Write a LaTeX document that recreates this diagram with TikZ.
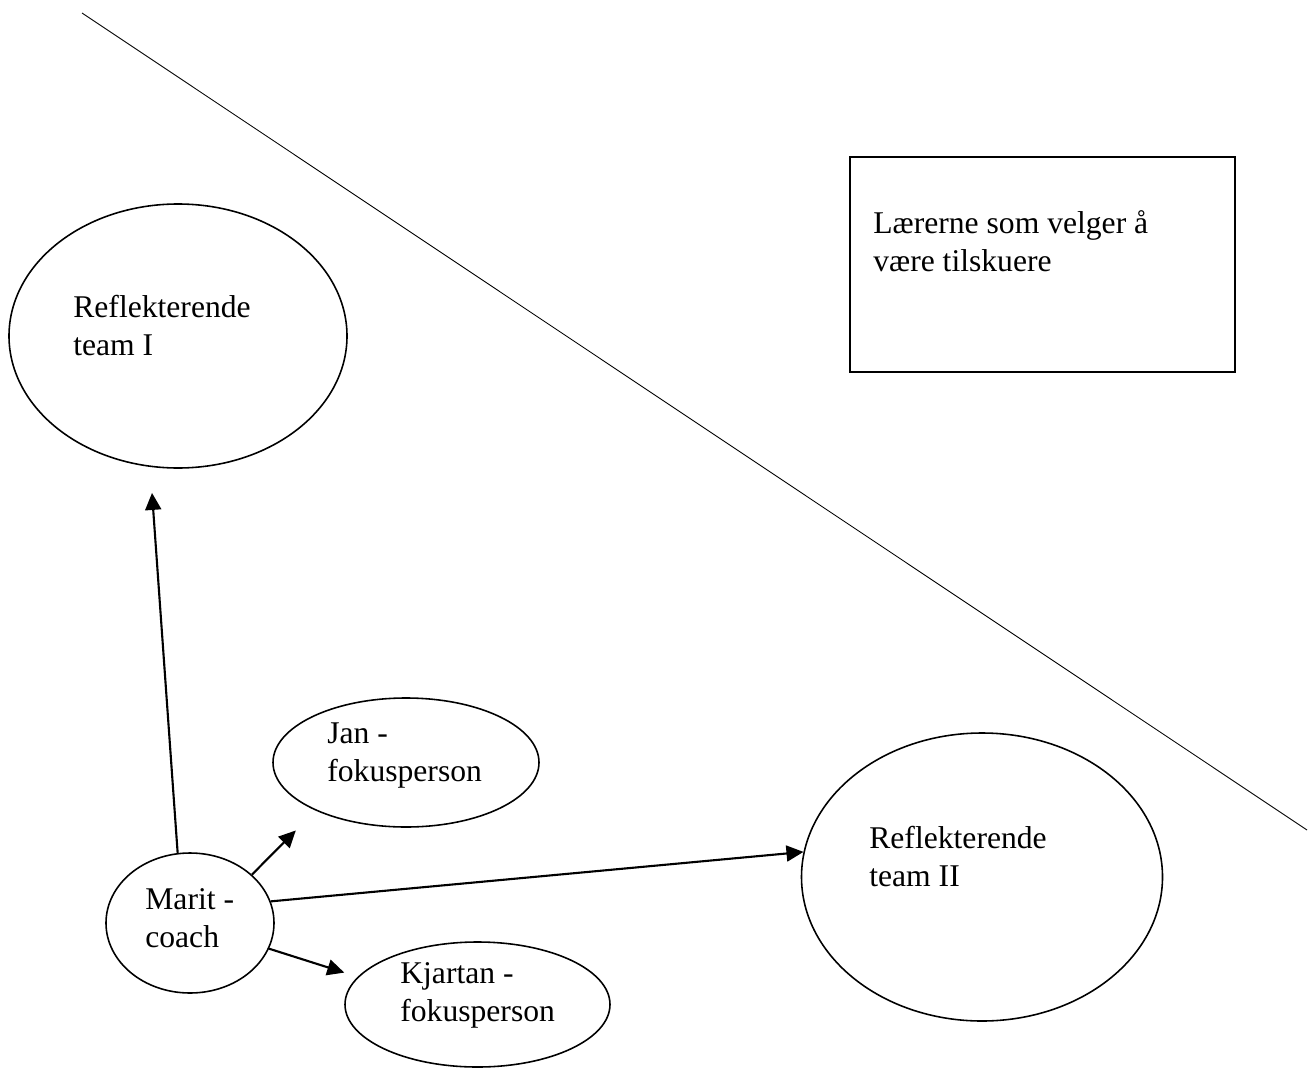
\documentclass[tikz,border=0pt]{standalone}
\usepackage{fontspec}
\setmainfont{Liberation Serif}
\usetikzlibrary{positioning,shapes.geometric,arrows.meta}
\tikzstyle{sheet} = [x = 0.02cm, y = -0.02cm]
\tikzstyle{groupStyle} = [draw, ellipse, line width = .9pt, inner sep = 0pt]
\tikzstyle{boxStyle} = [draw, rectangle, line width = 1pt, inner sep = 0pt]
\tikzstyle{groupText} = [anchor = base west, align = left, inner sep = 0pt, font = \fontsize{18}{21.5}\selectfont]
\tikzstyle{talkArrow} = [-{Triangle[length = .34cm, width = .32cm]}, line width = 1.2pt]
\tikzstyle{stageLine} = [line width = .5pt]
\newcommand{\px}{0.02cm}
% base of a two-line text is the second line
\newcommand{\groupEllipse}[8]{
  \node [groupStyle, minimum width = #4*\px, minimum height = #5*\px] (#1) at (#2,#3) {};
  \node [groupText] (#1Text) at ([shift = {(#6,#7 + 38)}] #1.center) {#8};
}
\newcommand{\groupBox}[8]{
  \node [boxStyle, minimum width = #4*\px, minimum height = #5*\px] (#1) at (#2,#3) {};
  \node [groupText] (#1Text) at ([shift = {(#6,#7 + 38)}] #1.center) {#8};
}

\begin{document}
\begin{tikzpicture}[sheet]
  \useasboundingbox (0,0) rectangle (1308,1068);
  \draw [stageLine] (82,13) -- (1307,830);
  \groupBox{viewers}{1042.5}{264.5}{385}{215}{-169.5}{-31.5}{Lærerne som velger å\\være tilskuere}
  \groupEllipse{teamI}{178}{336}{338}{264}{-105}{-19}{Reflekterende\\team I}
  \groupEllipse{jan}{406}{762.5}{266}{129}{-79}{-19.5}{Jan -\\fokusperson}
  \groupEllipse{marit}{190}{923}{168}{140}{-45}{-14}{Marit -\\coach}
  \groupEllipse{kjartan}{477.5}{1004.5}{265}{125}{-77.5}{-21.5}{Kjartan -\\fokusperson}
  \groupEllipse{teamII}{982}{877}{361}{288}{-113}{-29}{Reflekterende\\team II}
  \draw [talkArrow, shorten > = .52cm] (marit.100) -- (teamI.258);
  \draw [talkArrow, shorten > = .56cm] (marit.38) -- (jan.208);
  \draw [talkArrow] (marit.15) -- (teamII.172);
  \draw [talkArrow, shorten > = .28cm] (marit.-18) -- (kjartan.167);
\end{tikzpicture}
\end{document}
